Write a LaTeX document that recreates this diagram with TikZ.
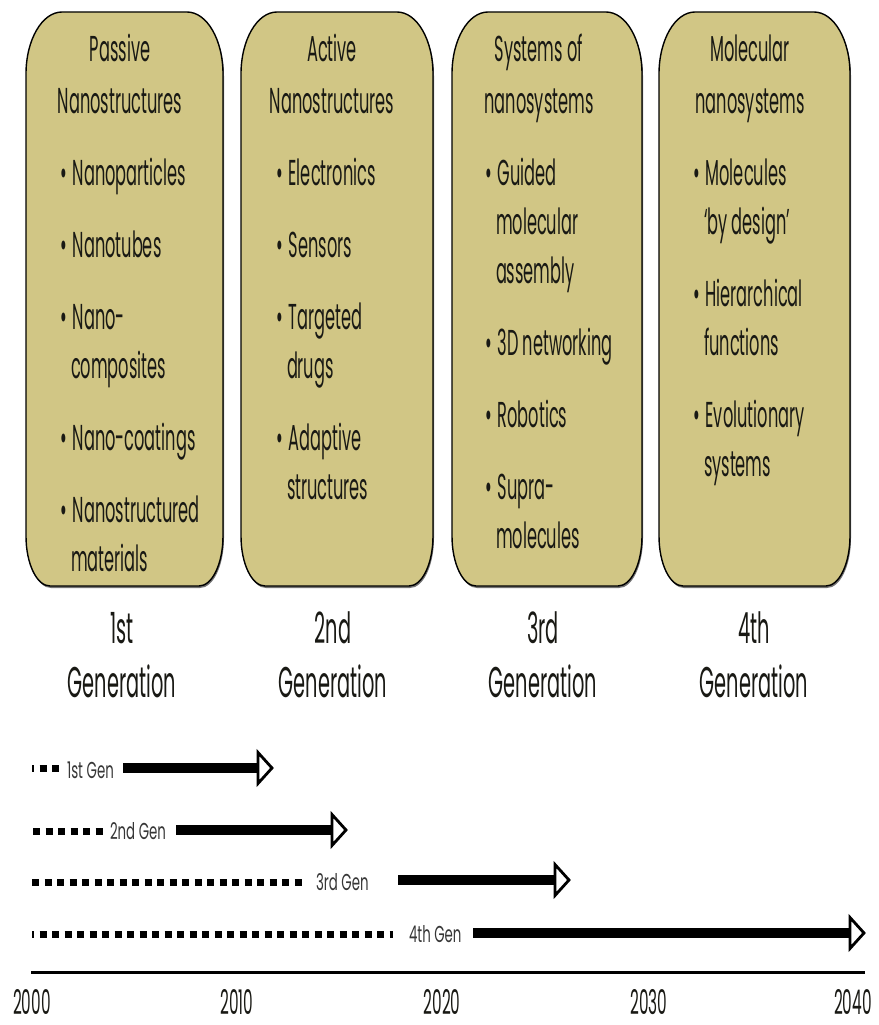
\documentclass[tikz,border=0pt]{standalone}
\usepackage{fontspec}
\setmainfont{Poppins}[FakeStretch=0.45]
\newfontfamily\tlfont{Poppins}[FakeStretch=0.58]
\definecolor{boxfill}{RGB}{209,198,133}
\definecolor{txt}{RGB}{25,25,20}
\definecolor{gentxt}{RGB}{55,55,55}
\newcommand{\nanobox}[2]{%
  \fill[black!55] ({#1+1},76) arc[start angle=180,end angle=270,x radius=36,y radius=62] -- ({#2-35},14) arc[start angle=270,end angle=360,x radius=36,y radius=62] -- ({#2+1},538) arc[start angle=0,end angle=90,x radius=24,y radius=50] -- ({#1+25},588) arc[start angle=90,end angle=180,x radius=24,y radius=50] -- cycle;
  \draw[nbox] ({#1},74) arc[start angle=180,end angle=270,x radius=36,y radius=62] -- ({#2-36},12) arc[start angle=270,end angle=360,x radius=36,y radius=62] -- ({#2},536) arc[start angle=0,end angle=90,x radius=24,y radius=50] -- ({#1+24},586) arc[start angle=90,end angle=180,x radius=24,y radius=50] -- cycle;}
\begin{document}
\begin{tikzpicture}[x=1pt,y=-1pt,
  every node/.style={inner sep=0pt, outer sep=0pt, text=txt},
  ttl/.style={anchor=base, font=\fontsize{36}{36}\selectfont},
  itm/.style={anchor=base west, font=\fontsize{36}{36}\selectfont},
  gen/.style={anchor=base, font=\fontsize{43}{43}\selectfont},
  tl/.style={anchor=base west, font=\tlfont\fontsize{23}{23}\selectfont, text=gentxt},
  yr/.style={anchor=base, text depth=0pt, font=\fontsize{34}{34}\selectfont},
  dots/.style={line width=7pt, dash pattern=on 7pt off 5.5pt},
  shaft/.style={line width=9.5pt},
  head/.style={line width=2.8pt, fill=white, line join=miter},
  nbox/.style={draw=black, line width=1.4pt, fill=boxfill}]
\useasboundingbox (0,0) rectangle (878,1025);
\fill[white] (0,0) rectangle (878,1025);
% boxes
\nanobox{26}{223}
\nanobox{241}{433}
\nanobox{452}{642}
\nanobox{659}{850}
% box 1
\node[ttl] (t1a) at (120,62) {Passive};
\node[ttl] (t1b) at (120,113) {Nanostructures};
\node[itm] (b1a) at (60,185) {\textbullet\,Nanoparticles};
\node[itm] (b1b) at (60,257) {\textbullet\,Nanotubes};
\node[itm] (b1c) at (60,329) {\textbullet\,Nano-};
\node[itm] (b1d) at (71,378) {composites};
\node[itm] (b1e) at (60,450) {\textbullet\,Nano-coatings};
\node[itm] (b1f) at (60,522) {\textbullet\,Nanostructured};
\node[itm] (b1g) at (71,571) {materials};
% box 2
\node[ttl] (t2a) at (332,62) {Active};
\node[ttl] (t2b) at (332,113) {Nanostructures};
\node[itm] (b2a) at (276,185) {\textbullet\,Electronics};
\node[itm] (b2b) at (276,257) {\textbullet\,Sensors};
\node[itm] (b2c) at (276,329) {\textbullet\,Targeted};
\node[itm] (b2d) at (287,378) {drugs};
\node[itm] (b2e) at (276,450) {\textbullet\,Adaptive};
\node[itm] (b2f) at (287,499) {structures};
% box 3
\node[ttl] (t3a) at (539,62) {Systems of};
\node[ttl] (t3b) at (539,113) {nanosystems};
\node[itm] (b3a) at (485,185) {\textbullet\,Guided};
\node[itm] (b3b) at (496,234) {molecular};
\node[itm] (b3c) at (496,283) {assembly};
\node[itm] (b3d) at (485,355) {\textbullet\,3D networking};
\node[itm] (b3e) at (485,427) {\textbullet\,Robotics};
\node[itm] (b3f) at (485,499) {\textbullet\,Supra-};
\node[itm] (b3g) at (496,548) {molecules};
% box 4
\node[ttl] (t4a) at (750,62) {Molecular};
\node[ttl] (t4b) at (750,113) {nanosystems};
\node[itm] (b4a) at (693,185) {\textbullet\,Molecules};
\node[itm] (b4b) at (704,234) {‘by design’};
\node[itm] (b4c) at (693,306) {\textbullet\,Hierarchical};
\node[itm] (b4d) at (704,355) {functions};
\node[itm] (b4e) at (693,427) {\textbullet\,Evolutionary};
\node[itm] (b4f) at (704,476) {systems};
% generation labels
\node[gen] (g1a) at (122,643) {1st};
\node[gen] (g1b) at (122,697) {Generation};
\node[gen] (g2a) at (333,643) {2nd};
\node[gen] (g2b) at (333,697) {Generation};
\node[gen] (g3a) at (543,643) {3rd};
\node[gen] (g3b) at (543,697) {Generation};
\node[gen] (g4a) at (754,643) {4th};
\node[gen] (g4b) at (754,697) {Generation};
% timeline rows
\coordinate (d1s) at (32,768); \coordinate (d1e) at (61,768);
\coordinate (d2s) at (33,831); \coordinate (d2e) at (106,831);
\coordinate (d3s) at (32,882); \coordinate (d3e) at (305,882);
\coordinate (d4s) at (32,934); \coordinate (d4e) at (393,934);
\draw[dots, dash phase=5pt] (d1s) -- (d1e);
\draw[dots] (d2s) -- (d2e);
\draw[dots] (d3s) -- (d3e);
\draw[dots, dash phase=5pt] (d4s) -- (d4e);
\node[tl] (l1) at (67,778) {1st Gen};
\node[tl] (l2) at (110,839) {2nd Gen};
\node[tl] (l3) at (316,890) {3rd Gen};
\node[tl] (l4) at (409,942) {4th Gen};
\coordinate (a1s) at (123,768); \coordinate (a1e) at (258,768);
\coordinate (a2s) at (176,830); \coordinate (a2e) at (332,830);
\coordinate (a3s) at (398,880); \coordinate (a3e) at (555,880);
\coordinate (a4s) at (473,933); \coordinate (a4e) at (850,933);
\foreach \s/\e in {a1s/a1e,a2s/a2e,a3s/a3e,a4s/a4e}{
  \draw[shaft] (\s) -- (\e);
  \draw[head] (\e) ++(0,-15.5) -- ++(14,15.5) -- ++(-14,15.5) -- cycle;
}
% axis
\coordinate (ax0) at (31,972); \coordinate (ax1) at (865,972);
\draw[line width=3pt] (ax0) -- (ax1);
\node[yr] (y0) at (32,1014) {2000};
\node[yr] (y1) at (237,1014) {2010};
\node[yr] (y2) at (442,1014) {2020};
\node[yr] (y3) at (649,1014) {2030};
\node[yr] (y4) at (853,1014) {2040};
\end{tikzpicture}
\end{document}
